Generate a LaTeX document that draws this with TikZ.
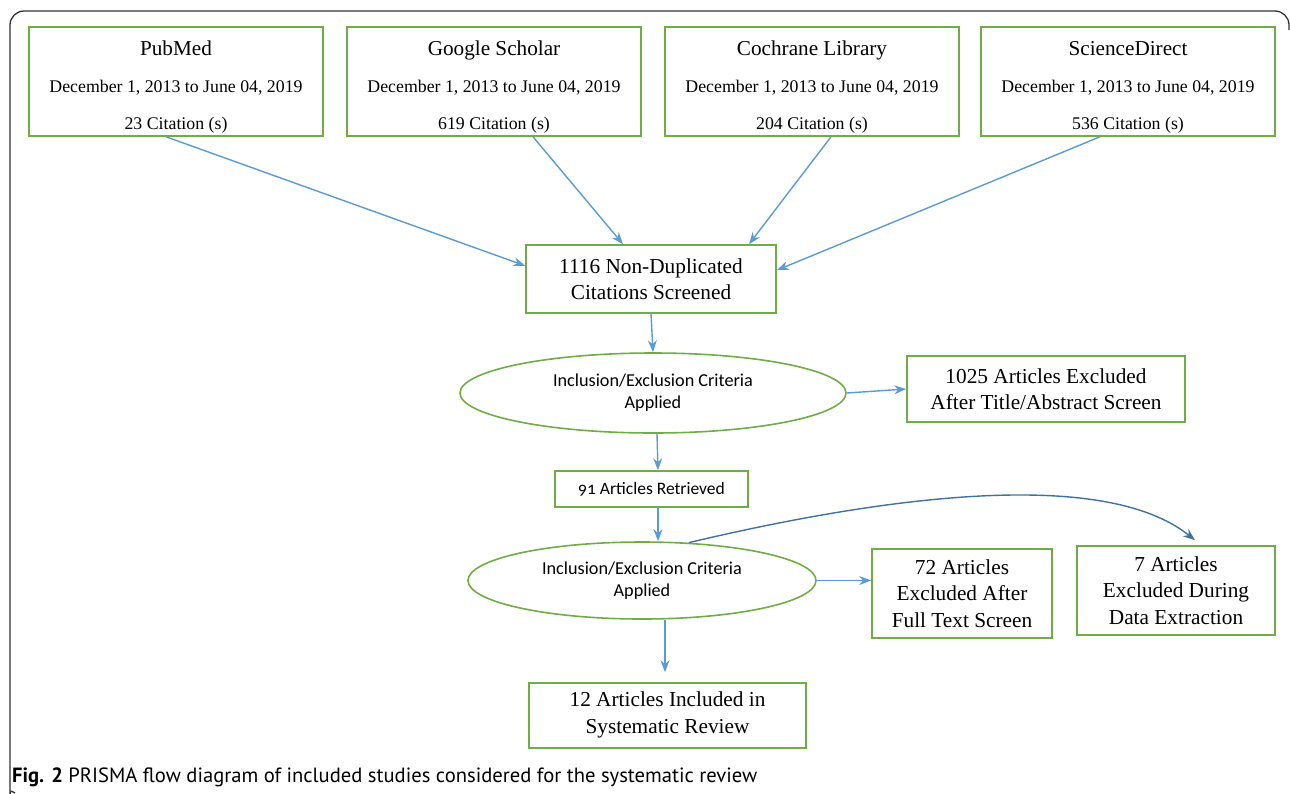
\documentclass[tikz,border=0pt]{standalone}
\usepackage{fontspec}
\setmainfont{Liberation Serif}
\newfontfamily\critfont{Carlito}[Numbers=OldStyle]
\newfontfamily\capfont{PT Sans}
\usetikzlibrary{shapes.geometric,arrows.meta,calc}

\begin{document}
\begin{tikzpicture}[x=1pt,y=-1pt]

  % ---- colours ----
  \definecolor{PRGreen}{RGB}{112,173,71}
  \definecolor{PRBlue}{RGB}{91,155,213}
  \definecolor{PRDeep}{RGB}{65,113,156}
  \definecolor{PRFrame}{gray}{0.20}

  \useasboundingbox (0,0) rectangle (1290,793);

  % ---- styles ----
  \tikzset{
    srcbox/.style={draw=PRGreen, line width=1.6pt, minimum width=294pt, minimum height=109pt,
      inner sep=0pt, align=center, font=\fontsize{17.8}{37}\selectfont},
    stagebox/.style={draw=PRGreen, line width=1.6pt, inner sep=0pt, align=center,
      font=\fontsize{21.3}{26.5}\selectfont},
    critell/.style={ellipse, draw=PRGreen, line width=1.6pt, inner sep=0pt, align=center,
      font=\critfont\fontsize{18.2}{22}\selectfont},
    flow/.style={draw=PRBlue, line width=1.4pt, -{Stealth[length=12pt,width=9pt]}},
    curveflow/.style={flow, draw=PRDeep},
  }
  % title line of a database box, padded so the block sits a little low
  \newcommand{\srctitle}[1]{\rule{0pt}{26.5pt}{\fontsize{21.2}{37}\selectfont #1}}

  % ---- outer frame ----
  \draw[PRFrame, line width=1.3pt, rounded corners=14pt]
    (15,793) .. controls (11,791) and (10,789) .. (10,783) -- (10,11) -- (1289,11) -- (1289,30);

  % ---- databases ----
  \node[srcbox] (pubmed) at (176,81.5) {%
    \srctitle{PubMed}\\
    December 1, 2013 to June 04, 2019\\
    23 Citation (s)};
  \node[srcbox] (scholar) at (494,81.5) {%
    \srctitle{Google Scholar}\\
    December 1, 2013 to June 04, 2019\\
    619 Citation (s)};
  \node[srcbox] (cochrane) at (812,81.5) {%
    \srctitle{Cochrane Library}\\
    December 1, 2013 to June 04, 2019\\
    204 Citation (s)};
  \node[srcbox] (sdirect) at (1128,81.5) {%
    \srctitle{ScienceDirect}\\
    December 1, 2013 to June 04, 2019\\
    536 Citation (s)};

  % ---- screening ----
  \node[stagebox, minimum width=250pt, minimum height=68pt] (screened) at (651,279)
    {1116 Non-Duplicated\\Citations Screened};
  \node[critell, minimum width=386pt, minimum height=80pt] (critA) at (653,393)
    {Inclusion/Exclusion Criteria\\Applied};
  \node[stagebox, minimum width=278pt, minimum height=66pt] (exclA) at (1046,389)
    {1025 Articles Excluded\\After Title/Abstract Screen};
  \node[stagebox, minimum width=193pt, minimum height=36pt,
    font=\critfont\fontsize{17.5}{22}\selectfont] (retrieved) at (651.5,489)
    {91 Articles Retrieved};

  % ---- eligibility ----
  \node[critell, minimum width=348pt, minimum height=77pt] (critB) at (642,580.5)
    {Inclusion/Exclusion Criteria\\Applied};
  \node[stagebox, minimum width=180pt, minimum height=89pt] (exclB) at (962,593.5)
    {72 Articles\\Excluded After\\Full Text Screen};
  \node[stagebox, minimum width=198pt, minimum height=89pt] (exclC) at (1176,590.5)
    {7 Articles\\Excluded During\\Data Extraction};
  \node[stagebox, minimum width=277pt, minimum height=65pt, text depth=6pt] (included) at (667.5,715.5)
    {12 Articles Included in\\Systematic Review};

  % ---- caption ----
  \node[anchor=west, inner sep=0pt, font=\capfont\fontsize{20.6}{24}\selectfont] (caption) at (12,777)
    {\textbf{Fig. 2} PRISMA flow diagram of included studies considered for the systematic review};

  % ---- connectors ----
  \draw[flow] ($(pubmed.south)+(-10,0)$) -- (screened.174);
  \draw[flow] ($(scholar.south)+(39,0)$) -- ($(screened.north)+(-28,0)$);
  \draw[flow] ($(cochrane.south)+(19,0)$) -- ($(screened.north)+(98,0)$);
  \draw[flow] ($(sdirect.south)+(-28,0)$) -- (screened.4);

  \draw[flow] (screened.south) -- (critA.north);
  \draw[flow] (critA.east) -- (exclA.west);
  \draw[flow] ($(critA.south)+(4,0)$) -- ($(retrieved.north)+(6.5,0)$);
  \draw[flow] ($(retrieved.south)+(6.5,0)$) -- ($(critB.north)+(16,0)$);
  \draw[flow] (critB.east) -- (critB.east -| exclB.west);
  \draw[curveflow] (critB.39) .. controls (890,495) and (1105,468) .. ($(exclC.north)+(19,-5)$);
  \draw[flow, shorten >=10pt] ($(critB.south)+(23,0)$) -- ($(included.north)+(-2.5,0)$);

\end{tikzpicture}
\end{document}
